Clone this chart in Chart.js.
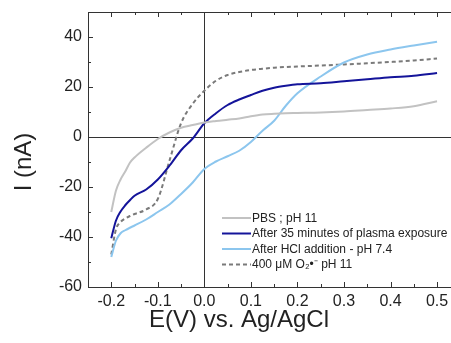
<!DOCTYPE html>
<html>
<head>
<meta charset="utf-8">
<script src="https://cdn.jsdelivr.net/npm/chart.js@4/dist/chart.umd.min.js"></script>
<style>
html,body{margin:0;padding:0;background:#fff;overflow:hidden;}
#wrap{width:451px;height:343px;position:relative;}
</style>
</head>
<body>
<div id="wrap"><canvas id="c"></canvas></div>
<script>
// Potential grid (V vs Ag/AgCl)
const potential = [-0.2,-0.19,-0.18,-0.17,-0.16,-0.15,-0.125,-0.1,-0.075,-0.05,-0.025,0,0.025,0.05,0.075,0.1,0.125,0.15,0.175,0.2,0.25,0.3,0.35,0.4,0.45,0.5];
// Currents (nA)
const pbs      = [-30,-21.5,-17,-13.8,-10.3,-8.2,-4.3,-0.8,1.8,3.7,4.8,5.8,6.4,6.9,7.4,8.3,9,9.3,9.5,9.6,9.8,10.2,10.8,11.4,12.3,14.3];
const plasma   = [-40.5,-33.5,-29.8,-27.3,-25.3,-23.5,-21,-17,-11.5,-5.3,-0.6,5.5,9.5,12.8,15,16.8,18.5,19.7,20.5,21.1,21.5,22.3,23.1,23.9,24.5,25.6];
const hcl      = [-48,-41.5,-38.5,-37.3,-36.3,-35.4,-33,-30,-27,-22.8,-18.2,-12.8,-9.8,-7.7,-5.5,-2,2.5,6.5,12.5,17.5,24.2,29.8,33,35,36.6,38.1];
const superox  = [-47,-37,-34,-32.6,-31.6,-30.8,-29,-24.8,-9.5,5.5,13.3,18.5,22.5,24.8,26,26.8,27.3,27.7,28,28.2,28.6,29,29.5,30,30.6,31.4];
const seriesNames = ["PBS ; pH 11","After 35 minutes of plasma exposure","After HCl addition - pH 7.4","400 \u03bcM O\u2082\u2022\u207b pH 11"];
const xTicks = [-0.2,-0.1,0.0,0.1,0.2,0.3,0.4,0.5];
const yTicks = [-60,-40,-20,0,20,40];
const xMinor = [-0.25,-0.15,-0.05,0.05,0.15,0.25,0.35,0.45];
const yMinor = [-50,-30,-10,10,30,50];

const pts = arr => potential.map((v,i)=>({x:v,y:arr[i]}));
const styles = [
  {color:'#c2c2c2', width:2, dash:[]},
  {color:'#14149a', width:2, dash:[]},
  {color:'#8cc6ee', width:2, dash:[]},
  {color:'#7a7a7a', width:2, dash:[4,3]}
];
const datasets = [pbs,plasma,hcl,superox].map((arr,i)=>({
  label: seriesNames[i],
  data: pts(arr),
  showLine:true,
  borderColor: styles[i].color,
  borderWidth: styles[i].width,
  borderDash: styles[i].dash,
  pointRadius:0,
  cubicInterpolationMode:'monotone',
  fill:false
}));

const decor = {
  id:'decor',
  beforeDatasetsDraw(chart){
    const {ctx, chartArea:a, scales:{x,y}} = chart;
    ctx.save();
    ctx.strokeStyle='#333'; ctx.lineWidth=1;
    const y0 = Math.round(y.getPixelForValue(0))+0.5;
    const x0 = Math.round(x.getPixelForValue(0))+0.5;
    ctx.beginPath();
    ctx.moveTo(a.left,y0); ctx.lineTo(a.right,y0);
    ctx.moveTo(x0,a.top); ctx.lineTo(x0,a.bottom);
    ctx.stroke();
    ctx.restore();
  },
  afterDraw(chart){
    const {ctx, chartArea:a, scales:{x,y}} = chart;
    ctx.save();
    ctx.strokeStyle='#333'; ctx.lineWidth=1;
    ctx.beginPath();
    ctx.moveTo(a.left,a.top+0.5); ctx.lineTo(a.right,a.top+0.5);
    const xt=(v,len)=>{const px=Math.round(x.getPixelForValue(v))+0.5;
      ctx.moveTo(px,a.bottom); ctx.lineTo(px,a.bottom-len);
      ctx.moveTo(px,a.top); ctx.lineTo(px,a.top+len);};
    xTicks.forEach(v=>xt(v,5)); xMinor.forEach(v=>xt(v,3));
    const yt=(v,len)=>{const py=Math.round(y.getPixelForValue(v))+0.5;
      ctx.moveTo(a.left,py); ctx.lineTo(a.left+len,py);};
    yTicks.forEach(v=>yt(v,5)); yMinor.forEach(v=>yt(v,3));
    ctx.stroke();
    // axis titles
    ctx.fillStyle='#222';
    ctx.font='24px "Liberation Sans", Arial, sans-serif';
    ctx.textAlign='center'; ctx.textBaseline='middle';
    ctx.fillText('E(V) vs. Ag/AgCl', 239, 320);
    ctx.save();
    ctx.translate(24,162); ctx.rotate(-Math.PI/2);
    ctx.fillText('I (nA)',0,0);
    ctx.restore();
    // legend
    ctx.font='12px "Liberation Sans", Arial, sans-serif';
    ctx.textAlign='left';
    const rows=[218,233.5,249,264.5];
    chart.data.datasets.forEach((d,i)=>{
      const ry=rows[i];
      ctx.strokeStyle=d.borderColor; ctx.lineWidth=2; ctx.setLineDash(d.borderDash);
      ctx.beginPath(); ctx.moveTo(222,ry); ctx.lineTo(251,ry); ctx.stroke();
      ctx.setLineDash([]);
      ctx.fillStyle='#222';
      ctx.fillText(d.label,252,ry+0.5);
    });
    ctx.restore();
  }
};

new Chart(document.getElementById('c'),{
  type:'scatter',
  data:{datasets},
  options:{
    responsive:true, maintainAspectRatio:false, animation:false, devicePixelRatio:1,
    layout:{padding:{top:12,right:0,left:0,bottom:0}},
    plugins:{legend:{display:false},tooltip:{enabled:false}},
    scales:{
      x:{type:'linear',min:-0.25,max:0.53,
        afterFit:s=>{s.height=56; s.paddingLeft=0; s.paddingRight=0;},
        afterBuildTicks:s=>{s.ticks=xTicks.map(v=>({value:v}));},
        grid:{display:false,drawTicks:false},
        border:{display:true,color:'#333',width:1},
        ticks:{padding:5,color:'#222',font:{size:16,family:'"Liberation Sans", Arial, sans-serif'},callback:v=>Number(v).toFixed(1)}
      },
      y:{type:'linear',min:-60,max:50,
        afterFit:s=>{s.width=88; s.paddingTop=0; s.paddingBottom=0;},
        afterBuildTicks:s=>{s.ticks=yTicks.map(v=>({value:v}));},
        grid:{display:false,drawTicks:false},
        border:{display:true,color:'#333',width:1},
        ticks:{padding:6,color:'#222',font:{size:16,family:'"Liberation Sans", Arial, sans-serif'}}
      }
    }
  },
  plugins:[decor]
});
</script>
</body>
</html>
